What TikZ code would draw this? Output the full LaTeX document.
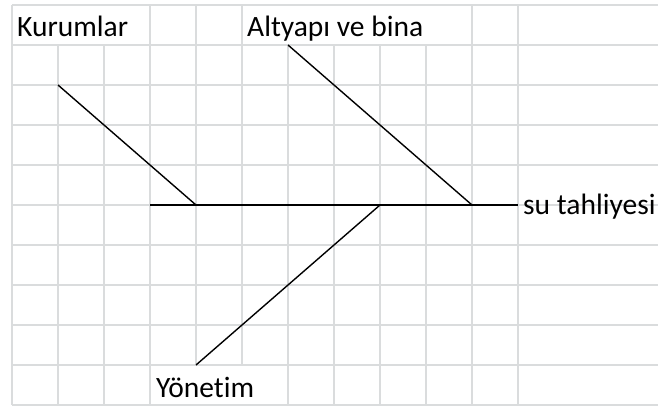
\documentclass[tikz,border=0pt]{standalone}
\usepackage{fontspec}
\setmainfont{Carlito}[Ligatures=NoCommon]
\definecolor{cellgrid}{RGB}{218,220,221}
\usetikzlibrary{positioning}
\tikzset{
    gridline/.style={draw=cellgrid, line width=1.6pt},
    bone/.style={draw=black, line width=1.4pt},
    cause/.style={inner sep=0pt, anchor=base west,
        font=\fontsize{29.5}{35}\selectfont}
}
\begin{document}
\begin{tikzpicture}[x=1pt, y=-1pt]
\useasboundingbox (0,0) rectangle (658,409);
% sheet cells
\foreach \y in {5,45,...,405}
  \draw[gridline] (12,\y) -- (658,\y);
\foreach \x/\a/\b in {12/5/405, 58/45/405, 104/45/405, 150/5/405,
    196/5/365, 242/5/365, 288/45/405, 334/45/405, 380/45/405,
    426/45/405, 472/5/405, 518/5/405}
  \draw[gridline] (\x,\a) -- (\x,\b);
% labels
\node[cause] (kurum) at (17,37) {Kurumlar};
\node[cause] (altyapi) at (247,37) {Altyapı ve bina};
\node[cause] (effect) at (523,214) {su tahliyesi};
\node[cause] (yonetim) at (156,397) {Yönetim};
% spine and bones
\coordinate (tail) at (150,205);
\coordinate (head) at (518,205);
\coordinate (j1) at (196,205);
\coordinate (j2) at (380,205);
\coordinate (j3) at (472,205);
\coordinate (kurumtip) at (58,85);
\coordinate (altyapitip) at (288,45);
\coordinate (yonetimtip) at (196,365);
\draw[bone](tail)--(head);
\draw[bone](kurumtip)--(j1);
\draw[bone](altyapitip)--(j3);
\draw[bone](yonetimtip)--(j2);
\end{tikzpicture}
\end{document}
